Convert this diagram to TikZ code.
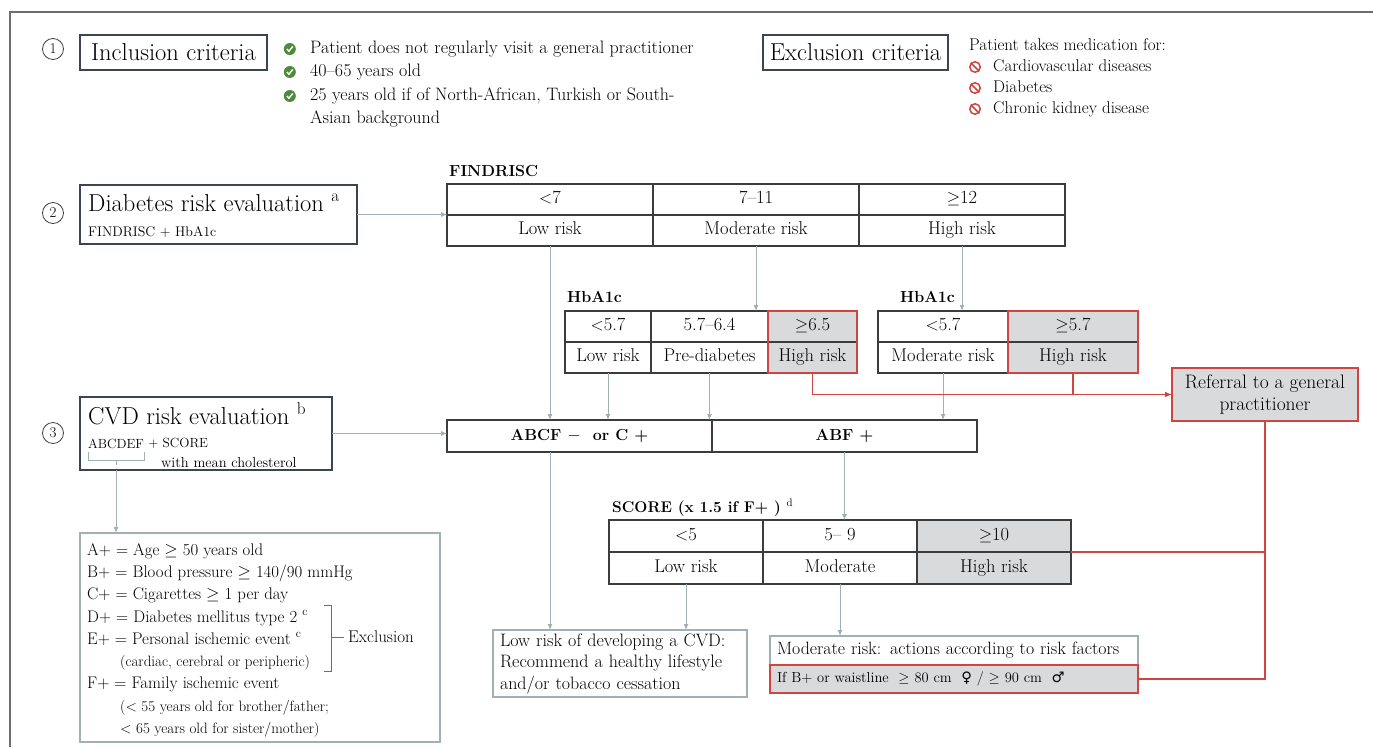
\documentclass[tikz,border=0pt]{standalone}
\usepackage{fontspec}
\usetikzlibrary{positioning,arrows.meta}
\newfontfamily\symf{DejaVu Sans}
\definecolor{boxline}{HTML}{3B4452}
\definecolor{tabline}{HTML}{3C3C3C}
\definecolor{flow}{HTML}{9FB1B5}
\definecolor{refred}{HTML}{D0453F}
\definecolor{hifill}{HTML}{D9DADC}
\definecolor{okgreen}{HTML}{4F8A3C}
\definecolor{framegray}{HTML}{6E6E6E}
\newcommand{\bigf}{\fontsize{24.5}{29}\selectfont}
\newcommand{\txtf}{\fontsize{18}{21}\selectfont}
\newcommand{\exf}{\fontsize{17}{20}\selectfont}
\newcommand{\tabf}{\fontsize{18.5}{22}\selectfont}
\newcommand{\lstf}{\fontsize{16.8}{20}\selectfont}
\newcommand{\smlf}{\fontsize{14}{17}\selectfont}
\newcommand{\hdf}{\fontsize{16}{19}\selectfont\bfseries}

\tikzset{
  titlebox/.style={draw=boxline, line width=2pt, inner sep=0pt, outer sep=0pt, anchor=north west},
  cell/.style={draw=tabline, line width=1.3pt, minimum height=31pt, inner sep=0pt,
    outer sep=0pt, anchor=north west, text height=12pt, text depth=4pt, font=\tabf},
  hicell/.style={cell, fill=hifill},
  notebox/.style={draw=flow, line width=1.5pt, inner sep=0pt, outer sep=0pt, anchor=north west},
  txt/.style={inner sep=0pt, anchor=base west},
  listtext/.style={inner sep=0pt, anchor=west, text height=12pt, text depth=4pt, font=\txtf},
  flowarrow/.style={draw=flow, line width=1pt, -{Latex[length=6pt,width=5pt]}},
  redline/.style={draw=refred, line width=1.6pt},
  stepnum/.style={circle, draw=black!75, line width=0.8pt, inner sep=0pt,
    minimum size=21pt, font=\fontsize{15}{15}\selectfont},
  okmark/.style={circle, fill=okgreen, minimum size=12pt, inner sep=0pt},
  nomark/.style={circle, draw=refred, line width=1.5pt, minimum size=10.5pt, inner sep=0pt},
}

\begin{document}
\begin{tikzpicture}[x=1pt, y=-1pt]
\useasboundingbox (0,0) rectangle (1373,747);
\draw[framegray, line width=1.3pt] (1373,12) -- (10,12) -- (10,747);

% step 1: who takes part
\node[stepnum] (s1) at (53,49) {1};
\node[titlebox, minimum width=187pt, minimum height=35pt, font=\bigf] (incl) at (80,35) {Inclusion criteria};
\node[listtext] (inc1) at (310,49) {Patient does not regularly visit a general practitioner};
\node[listtext] (inc2) at (310,72) {40--65 years old};
\node[listtext] (inc3) at (310,96) {25 years old if of North-African, Turkish or South-};
\node[listtext] (inc4) at (310,119) {Asian background};
\foreach \n in {inc1,inc2,inc3}{
  \node[okmark, left=14pt of \n] (ok\n) {};
  \draw[white, line width=1.4pt] ([shift={(-3,0)}]ok\n.center) -- ([shift={(-0.9,2.2)}]ok\n.center)
    -- ([shift={(3,-2.5)}]ok\n.center);
}
\node[titlebox, minimum width=185pt, minimum height=35pt, font=\bigf] (excl) at (763,35) {Exclusion criteria};
\node[listtext, font=\exf] (exc0) at (969,46) {Patient takes medication for:};
\node[listtext, font=\exf] (exc1) at (993,67) {Cardiovascular diseases};
\node[listtext, font=\exf] (exc2) at (993,88) {Diabetes};
\node[listtext, font=\exf] (exc3) at (993,109) {Chronic kidney disease};
\foreach \n in {exc1,exc2,exc3}{
  \node[nomark, left=12pt of \n] (no\n) {};
  \draw[refred, line width=1.5pt] (no\n.135) -- (no\n.-45);
}

% step 2: diabetes
\node[stepnum] (s2) at (53,213) {2};
\node[titlebox, minimum width=277pt, minimum height=59pt] (diab) at (80,185) {};
\node[txt, font=\bigf] (diabt) at (88,211) {Diabetes risk evaluation \textsuperscript{a}};
\node[txt, font=\smlf] (diabs) at (88,236) {FINDRISC + HbA1c};

\node[txt, font=\hdf] (findlab) at (449,176) {FINDRISC};
\node[cell, minimum width=206pt] (fv1) at (447,184) {$<$7};
\node[cell, minimum width=206pt, right=0pt of fv1] (fv2) {7--11};
\node[cell, minimum width=206pt, right=0pt of fv2] (fv3) {$\geq$12};
\node[cell, minimum width=206pt, below=0pt of fv1] (fr1) {Low risk};
\node[cell, minimum width=206pt, below=0pt of fv2] (fr2) {Moderate risk};
\node[cell, minimum width=206pt, below=0pt of fv3] (fr3) {High risk};

\node[txt, font=\hdf] (halab) at (567,302) {HbA1c};
\node[cell, minimum width=86pt] (hav1) at (565,311) {$<$5.7};
\node[cell, minimum width=117pt, right=0pt of hav1] (hav2) {5.7--6.4};
\node[hicell, minimum width=89pt, right=0pt of hav2] (hav3) {$\geq$6.5};
\node[cell, minimum width=86pt, below=0pt of hav1] (har1) {Low risk};
\node[cell, minimum width=117pt, below=0pt of hav2] (har2) {Pre-diabetes};
\node[hicell, minimum width=89pt, below=0pt of hav3] (har3) {High risk};
\draw[redline] (hav3.north west) rectangle (har3.south east);

\node[txt, font=\hdf] (hblab) at (900,302) {HbA1c};
\node[cell, minimum width=130pt] (hbv1) at (878,311) {$<$5.7};
\node[hicell, minimum width=130pt, right=0pt of hbv1] (hbv2) {$\geq$5.7};
\node[cell, minimum width=130pt, below=0pt of hbv1] (hbr1) {Moderate risk};
\node[hicell, minimum width=130pt, below=0pt of hbv2] (hbr2) {High risk};
\draw[redline] (hbv2.north west) rectangle (hbr2.south east);

\node[draw=refred, fill=hifill, line width=2pt, inner sep=0pt, outer sep=0pt, anchor=north west,
  minimum width=186pt, minimum height=53pt, align=center, font=\fontsize{19.5}{22}\selectfont]
  (refer) at (1172,368) {Referral to a general\\practitioner};

% step 3: cardiovascular
\node[stepnum] (s3) at (53,433) {3};
\node[titlebox, minimum width=252pt, minimum height=73pt] (cvd) at (80,397) {};
\node[txt, font=\bigf] (cvdt) at (88,424) {CVD risk evaluation \textsuperscript{b}};
\node[txt, font=\fontsize{13.3}{16}\selectfont] (abcdef) at (88,448) {ABCDEF};
\node[inner sep=0pt, font=\fontsize{13.3}{16}\selectfont, right=4pt of abcdef] (plus) {+ SCORE};
\node[txt, font=\fontsize{14.5}{17}\selectfont] (chol) at (161,467) {with mean cholesterol};
\draw[flow, line width=1pt] ([yshift=-4pt]abcdef.south west) -- ++(0,8)
  -- ([yshift=-12pt]abcdef.south east) -- ++(0,-8);
\coordinate (bmid) at ([yshift=-12pt]abcdef.south);
\draw[flow, line width=1pt] (bmid) -- ++(0,5);

\node[cell, minimum width=265pt, minimum height=32pt, font=\hdf] (abcf) at (447,420) {ABCF $-$\ \ or C +};
\node[cell, minimum width=265pt, minimum height=32pt, font=\hdf, right=0pt of abcf] (abf) {ABF +};

\node[txt, font=\fontsize{15.5}{18}\selectfont\bfseries] (scorelab) at (612,512) {SCORE (x 1.5 if F+ ) \textsuperscript{\mdseries d}};
\node[cell, minimum width=154pt, minimum height=32pt] (sv1) at (609,520) {$<$5};
\node[cell, minimum width=154pt, minimum height=32pt, right=0pt of sv1] (sv2) {5-- 9};
\node[hicell, minimum width=154pt, minimum height=32pt, right=0pt of sv2] (sv3) {$\geq$10};
\node[cell, minimum width=154pt, minimum height=32pt, below=0pt of sv1] (sr1) {Low risk};
\node[cell, minimum width=154pt, minimum height=32pt, below=0pt of sv2] (sr2) {Moderate};
\node[hicell, minimum width=154pt, minimum height=32pt, below=0pt of sv3] (sr3) {High risk};

\node[notebox, minimum width=360pt, minimum height=209pt] (list) at (80,533) {};
\node[txt, font=\lstf] (la) at (87,555) {A+ = Age $\geq$ 50 years old};
\node[txt, font=\lstf] (lb) at (87,577) {B+ = Blood pressure $\geq$ 140/90 mmHg};
\node[txt, font=\lstf] (lc) at (87,599) {C+ = Cigarettes $\geq$ 1 per day};
\node[txt, font=\lstf] (ld) at (87,622) {D+ = Diabetes mellitus type 2 \textsuperscript{c}};
\node[txt, font=\lstf] (le) at (87,644) {E+ = Personal ischemic event \textsuperscript{c}};
\node[txt, font=\fontsize{15}{18}\selectfont] (le2) at (120,666) {(cardiac, cerebral or peripheric)};
\node[txt, font=\lstf] (lf) at (87,688) {F+ = Family ischemic event};
\node[txt, font=\fontsize{15}{18}\selectfont] (lf2) at (120,711) {(< 55 years old for brother/father;};
\node[txt, font=\fontsize{15}{18}\selectfont] (lf3) at (120,733) {< 65 years old for sister/mother)};
\coordinate (exctop) at (331,605);
\coordinate (excbot) at (331,671);
\node[inner sep=0pt, anchor=west, font=\exf] (exlab) at (348,637) {Exclusion};
\draw[refred, line width=1pt] ([xshift=-7pt]exctop) -- (exctop) -- (excbot) -- ([xshift=-7pt]excbot);
\draw[refred, line width=1pt] (exctop |- exlab) -- ([xshift=-4pt]exlab.west);

\node[notebox, minimum height=67pt, text width=240pt, inner xsep=7pt, align=left,
  font=\fontsize{18}{21.5}\selectfont] (low) at (493,630)
  {Low risk of developing a CVD:\\Recommend a healthy lifestyle\\and/or tobacco cessation};
\node[notebox, minimum height=29pt, text width=354pt, inner xsep=7pt, align=left, font=\fontsize{17.8}{21}\selectfont]
  (mod) at (770,636) {Moderate risk: actions according to risk factors};
\node[notebox, draw=refred, fill=hifill, line width=2pt, minimum height=28pt, text width=354pt,
  inner xsep=7pt, align=left, font=\fontsize{14.5}{17}\selectfont, below=0pt of mod]
  (ifb) {If B+ or waistline \ $\geq$ 80 cm \ {\symf ♀} / $\geq$ 90 cm \ {\symf ♂}};

% connectors
\draw[flowarrow] (diab.east) -- (diab.east -| fv1.west);
\draw[flowarrow] (fr1.south) -- (fr1.south |- abcf.north);
\draw[flowarrow] (fr2.south) -- (fr2.south |- hav2.north);
\draw[flowarrow] (fr3.south) -- (fr3.south |- hbv1.north);
\draw[flowarrow] (har1.south) -- (har1.south |- abcf.north);
\draw[flowarrow] (har2.south) -- (har2.south |- abcf.north);
\draw[flowarrow] (hbr1.south) -- (hbr1.south |- abf.north);
\draw[redline, -{Latex[length=7pt,width=6pt]}] (har3.south) |- (refer.west);
\draw[redline] (hbr2.south) -- (hbr2.south |- refer.west);
\draw[redline] (refer.south) |- (ifb.east);
\draw[redline] (sv3.south east) -- (sv3.south east -| refer.south);
\draw[flowarrow] (cvd.east) -- (cvd.east -| abcf.west);
\draw[flowarrow] (bmid |- cvd.south) -- (bmid |- list.north);
\draw[flowarrow] (fr1.south |- abcf.south) -- (fr1.south |- low.north);
\draw[flowarrow] (abf.south) -- (abf.south |- sv2.north);
\draw[flowarrow] (sr1.south) -- (sr1.south |- low.north);
\draw[flowarrow] (sr2.south) -- (sr2.south |- mod.north);
\end{tikzpicture}
\end{document}
